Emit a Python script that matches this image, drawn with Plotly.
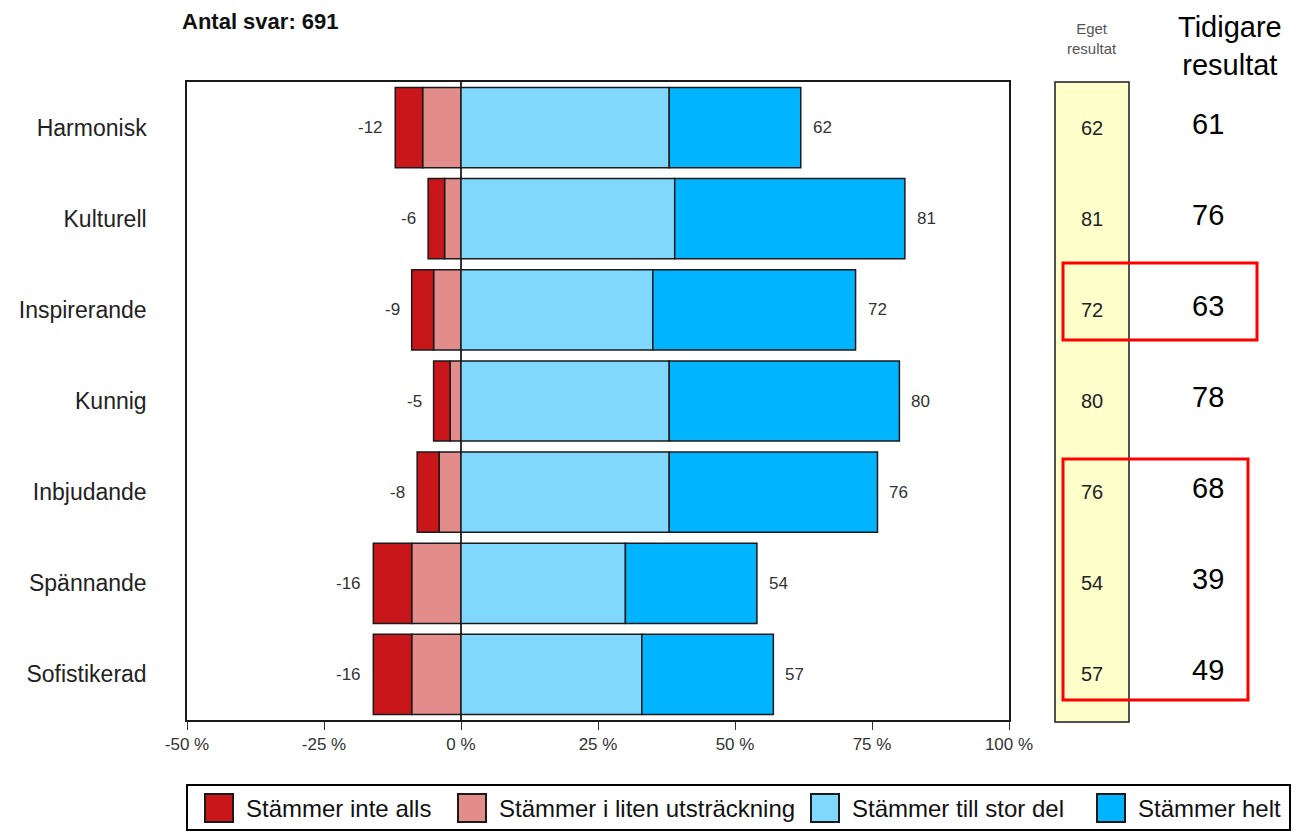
import plotly.graph_objects as go

# ---------------- data ----------------
categories = ["Harmonisk", "Kulturell", "Inspirerande", "Kunnig", "Inbjudande", "Spännande", "Sofistikerad"]
inte_alls = [5, 3, 4, 3, 4, 7, 7]        # Stämmer inte alls (negative side, outer)
liten = [7, 3, 5, 2, 4, 9, 9]            # Stämmer i liten utsträckning (negative side, inner)
stor_del = [38, 39, 35, 38, 38, 30, 33]  # Stämmer till stor del
helt = [24, 42, 37, 42, 38, 24, 24]      # Stämmer helt
neg_totals = [-12, -6, -9, -5, -8, -16, -16]
pos_totals = [62, 81, 72, 80, 76, 54, 57]
eget_resultat = [62, 81, 72, 80, 76, 54, 57]
tidigare_resultat = [61, 76, 63, 78, 68, 39, 49]
series_names = ["Stämmer inte alls", "Stämmer i liten utsträckning", "Stämmer till stor del", "Stämmer helt"]
tick_vals = [-50, -25, 0, 25, 50, 75, 100]
tick_text = ["-50 %", "-25 %", "0 %", "25 %", "50 %", "75 %", "100 %"]
n_svar = 691

# ---------------- style ----------------
colors = ["#C8161B", "#E38C8C", "#80D8FF", "#00B4FF"]
FONT = "Liberation Sans, Arial, sans-serif"
edge = dict(color="#1a1a1a", width=1.5)

OFF = 8  # page body margin
W, H = 1299 - OFF, 837 - OFF
L, R, T, B = 187, 1009, 82, 720  # plot area in window pixels


def px(x):
    return (x - L) / (R - L)


def py(y):
    return (B - y) / (B - T)


fig = go.Figure()
# negative side: inner (liten) first, then outer (inte alls)
fig.add_trace(go.Bar(y=categories, x=[-v for v in liten], orientation="h", name=series_names[1],
                     marker=dict(color=colors[1], line=edge), showlegend=False))
fig.add_trace(go.Bar(y=categories, x=[-v for v in inte_alls], orientation="h", name=series_names[0],
                     marker=dict(color=colors[0], line=edge), showlegend=False))
fig.add_trace(go.Bar(y=categories, x=stor_del, orientation="h", name=series_names[2],
                     marker=dict(color=colors[2], line=edge), showlegend=False))
fig.add_trace(go.Bar(y=categories, x=helt, orientation="h", name=series_names[3],
                     marker=dict(color=colors[3], line=edge), showlegend=False))

ann = []
# bar end labels
for c, n, p in zip(categories, neg_totals, pos_totals):
    ann.append(dict(x=n, y=c, xref="x", yref="y", text=str(n), showarrow=False, xanchor="right",
                    xshift=-10, font=dict(family=FONT, size=17, color="#333333")))
    ann.append(dict(x=p, y=c, xref="x", yref="y", text=str(p), showarrow=False, xanchor="left",
                    xshift=10, font=dict(family=FONT, size=17, color="#333333")))

# Eget resultat column
ann.append(dict(x=px(1092), y=py(38), xref="paper", yref="paper", text="Eget<br>resultat", showarrow=False,
                xanchor="center", yanchor="middle", font=dict(family=FONT, size=15, color="#555555")))
for c, v in zip(categories, eget_resultat):
    ann.append(dict(x=px(1092), y=c, xref="paper", yref="y", text=str(v), showarrow=False,
                    xanchor="center", font=dict(family=FONT, size=20, color="#222222")))

# Tidigare resultat column
ann.append(dict(x=px(1230), y=py(46), xref="paper", yref="paper", text="Tidigare<br>resultat", showarrow=False,
                xanchor="center", yanchor="middle", font=dict(family=FONT, size=29, color="#000000")))
for c, v in zip(categories, tidigare_resultat):
    ann.append(dict(x=px(1208), y=c, xref="paper", yref="y", text=str(v), showarrow=False,
                    xanchor="center", yshift=4, font=dict(family=FONT, size=29, color="#000000")))

# header
ann.append(dict(x=px(180), y=py(22), xref="paper", yref="paper", text="<b>Antal svar: %d</b>" % n_svar,
                showarrow=False, xanchor="left", yanchor="middle", font=dict(family=FONT, size=22, color="#111111")))

shapes = []
# yellow result box (drawn below)
shapes.append(dict(type="rect", xref="paper", yref="paper", x0=px(1055), x1=px(1129), y0=py(722), y1=1,
                   fillcolor="#FFFFCC", line=dict(color="#1a1a1a", width=1.5), layer="below"))
# red highlight rectangles
shapes.append(dict(type="rect", xref="paper", yref="paper", x0=px(1063), x1=px(1257), y0=py(340), y1=py(263),
                   line=dict(color="#FF0000", width=3)))
shapes.append(dict(type="rect", xref="paper", yref="paper", x0=px(1063), x1=px(1248), y0=py(700), y1=py(459),
                   line=dict(color="#FF0000", width=3)))

# manual legend
shapes.append(dict(type="rect", xref="paper", yref="paper", x0=px(187), x1=px(1290), y0=py(830), y1=py(785),
                   line=dict(color="#000000", width=2), fillcolor="white"))
leg_x = [205, 458, 811, 1097]
for i, name in enumerate(series_names):
    x0 = leg_x[i]
    shapes.append(dict(type="rect", xref="paper", yref="paper", x0=px(x0), x1=px(x0 + 28), y0=py(822), y1=py(794),
                       fillcolor=colors[i], line=dict(color="#1a1a1a", width=2)))
    ann.append(dict(x=px(x0 + 39), y=py(808), xref="paper", yref="paper", text=name, showarrow=False,
                    xanchor="left", yanchor="middle", font=dict(family=FONT, size=24, color="#111111")))

fig.update_layout(
    width=W, height=H,
    margin=dict(l=L - OFF, r=W - (R - OFF), t=T - OFF, b=H - (B - OFF), pad=0),
    barmode="relative", bargap=0.12,
    plot_bgcolor="white", paper_bgcolor="white",
    font=dict(family=FONT, color="#222222"),
    annotations=ann, shapes=shapes,
    showlegend=False,
)
fig.update_xaxes(range=[-50, 100], tickvals=tick_vals, ticktext=tick_text, ticks="outside", ticklen=8,
                 tickcolor="#333333", tickfont=dict(family=FONT, size=17, color="#333333"),
                 showgrid=False, zeroline=True, zerolinecolor="#333333", zerolinewidth=1.5,
                 showline=True, mirror=True, linecolor="#1a1a1a", linewidth=1.5)
fig.update_yaxes(categoryorder="array", categoryarray=categories, autorange="reversed",
                 showgrid=False, ticks="", ticklabelstandoff=34,
                 tickfont=dict(family=FONT, size=23, color="#222222"),
                 showline=True, mirror=True, linecolor="#1a1a1a", linewidth=1.5)

fig.write_html("out.html")
